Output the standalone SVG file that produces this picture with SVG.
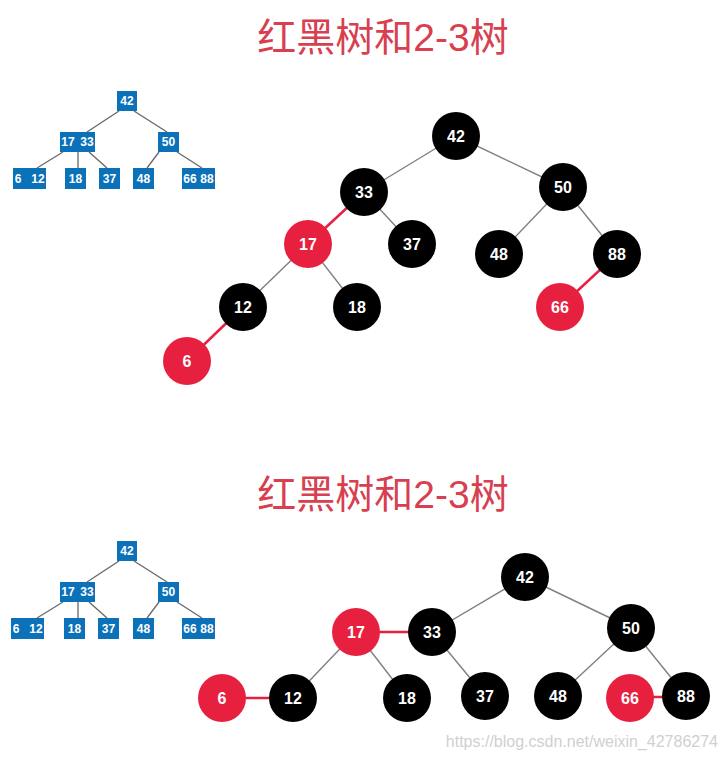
<svg xmlns="http://www.w3.org/2000/svg" width="728" height="760" viewBox="0 0 728 760">
<style>
.title{font-family:"Liberation Sans","Noto Sans CJK SC",sans-serif;font-size:39px;fill:#d83f50;text-anchor:middle}
.box{fill:#0b72b9}
.bt{font-family:"Liberation Sans",Arial,sans-serif;font-size:12px;font-weight:bold;fill:#fff;text-anchor:middle}
.e{stroke:#666;stroke-width:1.3;fill:none}
.ge{stroke:#808080;stroke-width:1.4;fill:none}
.re{stroke:#e8203f;stroke-width:2.5;fill:none}
.b{fill:#000}
.r{fill:#e8203f}
.nt{font-family:"Liberation Sans",Arial,sans-serif;font-size:16px;font-weight:bold;fill:#fff;text-anchor:middle}
.wm{font-family:"Liberation Sans",Arial,sans-serif;font-size:16px;fill:#d0d0d0;text-anchor:end}
</style>
<rect width="728" height="760" fill="#fff"/>

<text class="title" x="383" y="51">红黑树和2-3树</text>
<text class="title" x="383" y="508">红黑树和2-3树</text>

<!-- top 2-3 tree -->
<g id="t23a-edges">
<line class="e" x1="119" y1="111" x2="87" y2="132"/>
<line class="e" x1="134" y1="111" x2="167" y2="132"/>
<line class="e" x1="63" y1="152" x2="37" y2="168"/>
<line class="e" x1="78" y1="152" x2="78" y2="168"/>
<line class="e" x1="89" y1="152" x2="107" y2="168"/>
<line class="e" x1="159" y1="152" x2="147" y2="168"/>
<line class="e" x1="177" y1="152" x2="202" y2="168"/>
</g>
<g id="a42"><rect class="box" x="117" y="91" width="20" height="20"/><text class="bt" x="127" y="105">42</text></g>
<g id="a1733"><rect class="box" x="60" y="132" width="35" height="20"/><text class="bt" x="68" y="146">17</text><text class="bt" x="87" y="146">33</text></g>
<g id="a50"><rect class="box" x="158" y="132" width="21" height="20"/><text class="bt" x="168.5" y="146">50</text></g>
<g id="a612"><rect class="box" x="13" y="168" width="33" height="21"/><text class="bt" x="18" y="183">6</text><text class="bt" x="38" y="183">12</text></g>
<g id="a18"><rect class="box" x="65" y="168" width="21" height="21"/><text class="bt" x="75.5" y="183">18</text></g>
<g id="a37"><rect class="box" x="99" y="168" width="21" height="21"/><text class="bt" x="109.5" y="183">37</text></g>
<g id="a48"><rect class="box" x="133" y="168" width="21" height="21"/><text class="bt" x="143.5" y="183">48</text></g>
<g id="a6688"><rect class="box" x="182" y="168" width="33" height="21"/><text class="bt" x="190" y="183">66</text><text class="bt" x="207" y="183">88</text></g>

<!-- bottom 2-3 tree -->
<g id="t23b-edges">
<line class="e" x1="119" y1="561" x2="87" y2="582"/>
<line class="e" x1="134" y1="561" x2="167" y2="582"/>
<line class="e" x1="63" y1="602" x2="37" y2="618"/>
<line class="e" x1="78" y1="602" x2="78" y2="618"/>
<line class="e" x1="89" y1="602" x2="107" y2="618"/>
<line class="e" x1="159" y1="602" x2="147" y2="618"/>
<line class="e" x1="177" y1="602" x2="202" y2="618"/>
</g>
<g id="b42"><rect class="box" x="117" y="541" width="20" height="20"/><text class="bt" x="127" y="555">42</text></g>
<g id="b1733"><rect class="box" x="60" y="582" width="35" height="20"/><text class="bt" x="68" y="596">17</text><text class="bt" x="87" y="596">33</text></g>
<g id="b50"><rect class="box" x="158" y="582" width="21" height="20"/><text class="bt" x="168.5" y="596">50</text></g>
<g id="b612"><rect class="box" x="11" y="618" width="33" height="21"/><text class="bt" x="16" y="633">6</text><text class="bt" x="36" y="633">12</text></g>
<g id="b18"><rect class="box" x="64" y="618" width="21" height="21"/><text class="bt" x="74.5" y="633">18</text></g>
<g id="b37"><rect class="box" x="98" y="618" width="21" height="21"/><text class="bt" x="108.5" y="633">37</text></g>
<g id="b48"><rect class="box" x="133" y="618" width="21" height="21"/><text class="bt" x="143.5" y="633">48</text></g>
<g id="b6688"><rect class="box" x="182" y="618" width="33" height="21"/><text class="bt" x="190" y="633">66</text><text class="bt" x="207" y="633">88</text></g>

<!-- top red-black tree -->
<g id="rb1-edges">
<line class="ge" x1="456" y1="136" x2="364" y2="192"/>
<line class="ge" x1="456" y1="136" x2="563" y2="187"/>
<line class="re" x1="364" y1="192" x2="308" y2="244"/>
<line class="ge" x1="364" y1="192" x2="412" y2="244"/>
<line class="ge" x1="308" y1="244" x2="243" y2="307"/>
<line class="ge" x1="308" y1="244" x2="357" y2="307"/>
<line class="re" x1="243" y1="307" x2="187" y2="361"/>
<line class="ge" x1="563" y1="187" x2="499" y2="254"/>
<line class="ge" x1="563" y1="187" x2="617" y2="254"/>
<line class="re" x1="617" y1="254" x2="560" y2="307"/>
</g>
<g id="c42"><circle class="b" cx="456" cy="136" r="24"/><text class="nt" x="456" y="142">42</text></g>
<g id="c33"><circle class="b" cx="364" cy="192" r="24"/><text class="nt" x="364" y="198">33</text></g>
<g id="c50"><circle class="b" cx="563" cy="187" r="24"/><text class="nt" x="563" y="193">50</text></g>
<g id="c17"><circle class="r" cx="308" cy="244" r="24"/><text class="nt" x="308" y="250">17</text></g>
<g id="c37"><circle class="b" cx="412" cy="244" r="24"/><text class="nt" x="412" y="250">37</text></g>
<g id="c48"><circle class="b" cx="499" cy="254" r="24"/><text class="nt" x="499" y="260">48</text></g>
<g id="c88"><circle class="b" cx="617" cy="254" r="24"/><text class="nt" x="617" y="260">88</text></g>
<g id="c12"><circle class="b" cx="243" cy="307" r="24"/><text class="nt" x="243" y="313">12</text></g>
<g id="c18"><circle class="b" cx="357" cy="307" r="24"/><text class="nt" x="357" y="313">18</text></g>
<g id="c66"><circle class="r" cx="560" cy="307" r="24"/><text class="nt" x="560" y="313">66</text></g>
<g id="c6"><circle class="r" cx="187" cy="361" r="24"/><text class="nt" x="187" y="367">6</text></g>

<!-- bottom red-black tree -->
<g id="rb2-edges">
<line class="ge" x1="525" y1="577" x2="432" y2="632"/>
<line class="ge" x1="525" y1="577" x2="631" y2="628"/>
<line class="re" x1="356" y1="632" x2="432" y2="632"/>
<line class="ge" x1="432" y1="632" x2="485" y2="696"/>
<line class="ge" x1="356" y1="632" x2="293" y2="698"/>
<line class="ge" x1="356" y1="632" x2="407" y2="698"/>
<line class="re" x1="222" y1="698" x2="293" y2="698"/>
<line class="ge" x1="631" y1="628" x2="558" y2="696"/>
<line class="ge" x1="631" y1="628" x2="686" y2="696"/>
<line class="re" x1="630" y1="697" x2="686" y2="697"/>
</g>
<g id="d42"><circle class="b" cx="525" cy="577" r="24"/><text class="nt" x="525" y="583">42</text></g>
<g id="d17"><circle class="r" cx="356" cy="632" r="24"/><text class="nt" x="356" y="638">17</text></g>
<g id="d33"><circle class="b" cx="432" cy="632" r="24"/><text class="nt" x="432" y="638">33</text></g>
<g id="d50"><circle class="b" cx="631" cy="628" r="24"/><text class="nt" x="631" y="634">50</text></g>
<g id="d6"><circle class="r" cx="222" cy="698" r="24"/><text class="nt" x="222" y="704">6</text></g>
<g id="d12"><circle class="b" cx="293" cy="698" r="24"/><text class="nt" x="293" y="704">12</text></g>
<g id="d18"><circle class="b" cx="407" cy="698" r="24"/><text class="nt" x="407" y="704">18</text></g>
<g id="d37"><circle class="b" cx="485" cy="696" r="24"/><text class="nt" x="485" y="702">37</text></g>
<g id="d48"><circle class="b" cx="558" cy="696" r="24"/><text class="nt" x="558" y="702">48</text></g>
<g id="d66"><circle class="r" cx="630" cy="698" r="24"/><text class="nt" x="630" y="704">66</text></g>
<g id="d88"><circle class="b" cx="686" cy="696" r="24"/><text class="nt" x="686" y="702">88</text></g>

<text class="wm" x="718" y="747">https://blog.csdn.net/weixin_42786274</text>
</svg>
